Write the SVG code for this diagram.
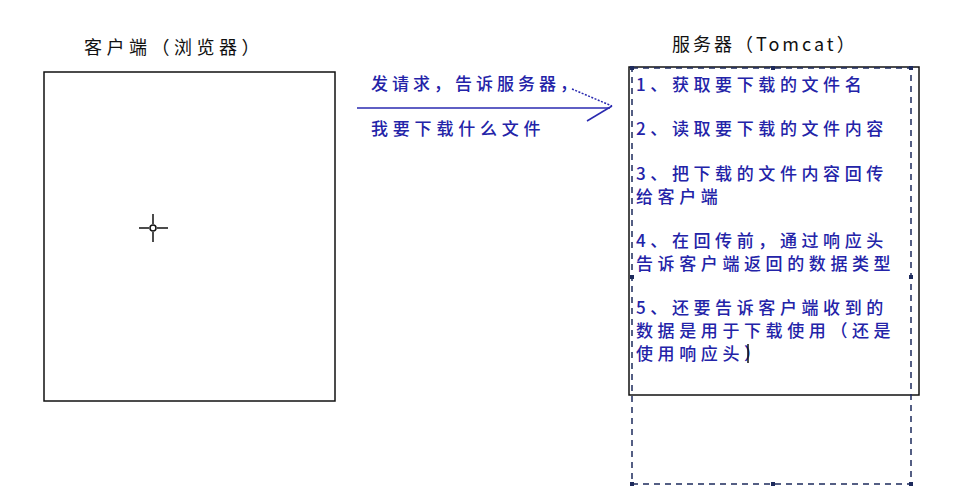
<svg xmlns="http://www.w3.org/2000/svg" width="953" height="493" viewBox="0 0 953 493">
<style>
.title{font-family:"Noto Sans CJK SC","Liberation Sans",sans-serif;font-size:18px;fill:#111;letter-spacing:2.5px}
.blue{font-family:"Noto Sans CJK SC","Liberation Sans",sans-serif;font-size:17px;font-weight:500;fill:#2323a8;letter-spacing:4.6px}
.box{fill:#fff;stroke:#111;stroke-width:1.5}
.sel{fill:none;stroke:#1d2a5c;stroke-width:1.5;stroke-dasharray:6 5}
.grip{fill:#1d2a5c}
.conn{stroke:#2a2ab0;stroke-width:1.5;fill:none}
</style>
<rect width="953" height="493" fill="#fff"/>
<g id="client">
<rect class="box" x="44" y="72" width="291" height="329"/>
<text class="title" x="84" y="54" style="letter-spacing:4.5px">客户端（浏览器）</text>
<g stroke="#111" stroke-width="1.5" fill="none">
<line x1="139" y1="228" x2="149" y2="228"/><line x1="157" y1="228" x2="168" y2="228"/>
<line x1="153" y1="214" x2="153" y2="224"/><line x1="153" y1="232" x2="153" y2="242"/>
<circle cx="153" cy="228" r="3"/>
</g>
</g>
<g id="server">
<rect class="box" x="629" y="67" width="290" height="328"/>
<text class="title" x="672" y="51" style="letter-spacing:3px">服务器（Tomcat）</text>
<text class="blue" x="636" y="91">1、获取要下载的文件名</text>
<text class="blue" x="636" y="135">2、读取要下载的文件内容</text>
<text class="blue" x="636" y="180">3、把下载的文件内容回传</text>
<text class="blue" x="636" y="203">给客户端</text>
<text class="blue" x="636" y="247">4、在回传前，通过响应头</text>
<text class="blue" x="636" y="270">告诉客户端返回的数据类型</text>
<text class="blue" x="636" y="314">5、还要告诉客户端收到的</text>
<text class="blue" x="636" y="337">数据是用于下载使用（还是</text>
<text class="blue" x="636" y="360">使用响应头）</text>
<line x1="748" y1="344" x2="748" y2="363" stroke="#111" stroke-width="1.5"/>
<rect class="sel" x="632" y="68" width="279" height="416"/>
<g class="grip">
<rect x="630" y="66" width="4" height="4"/><rect x="771" y="66" width="4" height="4"/><rect x="909" y="66" width="4" height="4"/>
<rect x="630" y="275" width="4" height="4"/><rect x="909" y="275" width="4" height="4"/>
<rect x="630" y="482" width="4" height="4"/><rect x="771" y="482" width="4" height="4"/><rect x="909" y="482" width="4" height="4"/>
</g>
</g>
<g id="connectors">
<line class="conn" x1="357" y1="108" x2="610" y2="108"/>
<line class="conn" x1="572" y1="89" x2="612" y2="106" stroke-dasharray="2 1.5"/>
<line class="conn" x1="612" y1="106" x2="587" y2="121"/>
<text class="blue" x="371" y="90" style="letter-spacing:4px">发请求，告诉服务器，</text>
<text class="blue" x="371" y="135" style="letter-spacing:4.8px">我要下载什么文件</text>
</g>
</svg>
